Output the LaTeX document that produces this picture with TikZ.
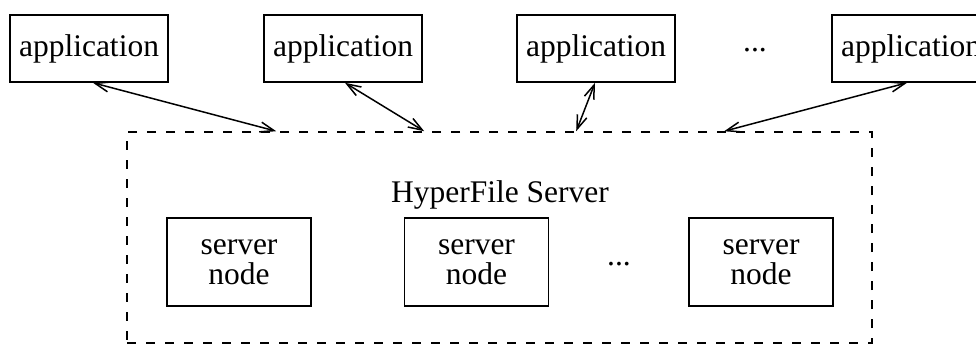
\documentclass[tikz,border=0pt]{standalone}
\usepackage{fontspec}
\setmainfont{Liberation Serif}
\usetikzlibrary{arrows.meta,calc}
\begin{document}
\begin{tikzpicture}[x=1pt,y=-1pt,
  txt/.style={font=\fontsize{31.5}{30}\selectfont},
  app/.style={txt,draw,line width=1.6pt,minimum width=158pt,minimum height=67pt,inner sep=0pt},
  srvnode/.style={txt,draw,line width=1.6pt,minimum width=144pt,minimum height=88pt,inner sep=0pt,align=center},
  srvbox/.style={draw,line width=1.6pt,dash pattern=on 9pt off 10pt,minimum width=745pt,minimum height=211pt,inner sep=0pt},
  link/.style={line width=1.5pt,{Straight Barb[length=14pt,width=10pt]}-{Straight Barb[length=14pt,width=10pt]}}]
\useasboundingbox (0,0) rectangle (976,346);
% applications
\node[app] (a1) at (89,48.5) {application};
\node[app] (a2) at (343,48.5) {application};
\node[app] (a3) at (596,48.5) {application};
\node[app] (a4) at (911,48.5) {application};
\node[txt] (adots) at (755,50) {...};
% server box
\node[srvbox] (srv) at (499.5,237.5) {};
\node[txt] (hfs) at (500,195) {HyperFile Server};
\node[srvnode] (s1) at (239,262) {server\\node};
\node[srvnode] (s2) at (476.5,262) {server\\node};
\node[srvnode] (s3) at (761,262) {server\\node};
\node[txt] (sdots) at (619,264) {...};
% connection points
\coordinate (p1) at ($(a1.south)+(4,0)$);
\coordinate (q1) at ($(srv.north west)+(150,0)$);
\coordinate (p2) at ($(a2.south)+(2,0)$);
\coordinate (q2) at ($(srv.north west)+(298,0)$);
\coordinate (p3) at ($(a3.south)+(-1,0)$);
\coordinate (q3) at ($(srv.north west)+(450,0)$);
\coordinate (p4) at ($(a4.south)+(-4,0)$);
\coordinate (q4) at ($(srv.north west)+(598,0)$);
\draw[link] (p1) -- (q1);
\draw[link] (p2) -- (q2);
\draw[link] (p3) -- (q3);
\draw[link] (p4) -- (q4);
\end{tikzpicture}
\end{document}
